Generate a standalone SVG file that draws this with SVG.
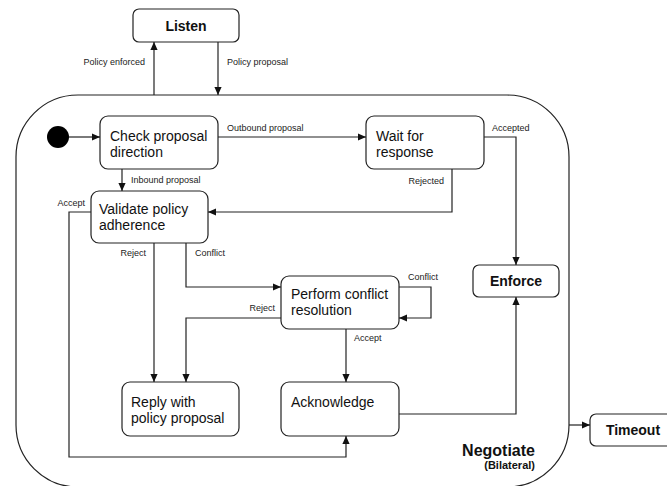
<svg xmlns="http://www.w3.org/2000/svg" width="667" height="486" viewBox="0 0 667 486">
<defs>
<style>
.node{fill:#fff;stroke:#222;stroke-width:1.2}
.t{font-family:"Liberation Sans",Arial,sans-serif;font-size:14px;fill:#111}
.b{font-family:"Liberation Sans",Arial,sans-serif;font-weight:bold;fill:#111}
.lbl{font-family:"Liberation Sans",Arial,sans-serif;font-size:9px;fill:#222}
.c{fill:none;stroke:#222;stroke-width:1.2}
</style>
<marker id="ah" viewBox="0 0 10 10" refX="10" refY="5" markerWidth="8" markerHeight="8" markerUnits="userSpaceOnUse" orient="auto">
<path d="M0,0.5 L10,5 L0,9.5 z" fill="#111"/>
</marker>
</defs>
<rect width="667" height="486" fill="#fff"/>
<g id="negotiate">
<rect x="16" y="95" width="553" height="392" rx="62" ry="62" class="node"/>
<text class="b" x="535" y="456" font-size="16" text-anchor="end">Negotiate</text>
<text class="b" x="535" y="469" font-size="11" text-anchor="end">(Bilateral)</text>
</g>
<g id="listen">
<rect x="133" y="9" width="106" height="33" rx="6" class="node"/>
<text class="b" x="186" y="31" font-size="14" text-anchor="middle">Listen</text>
</g>
<g id="initial">
<circle cx="58" cy="137" r="11" fill="#000"/>
</g>
<g id="check">
<rect x="100" y="116" width="118" height="53" rx="8" class="node"/>
<text class="t" x="110" y="141">Check proposal</text>
<text class="t" x="110" y="157">direction</text>
</g>
<g id="wait">
<rect x="366" y="116" width="118" height="53" rx="8" class="node"/>
<text class="t" x="376" y="141">Wait for</text>
<text class="t" x="376" y="157">response</text>
</g>
<g id="validate">
<rect x="91" y="191" width="117" height="52" rx="8" class="node"/>
<text class="t" x="99" y="214">Validate policy</text>
<text class="t" x="99" y="230">adherence</text>
</g>
<g id="perform">
<rect x="281" y="276" width="118" height="53" rx="8" class="node"/>
<text class="t" x="291" y="299">Perform conflict</text>
<text class="t" x="291" y="315">resolution</text>
</g>
<g id="enforce">
<rect x="473" y="265" width="86" height="32" rx="6" class="node"/>
<text class="b" x="516" y="286" font-size="14" text-anchor="middle">Enforce</text>
</g>
<g id="reply">
<rect x="122" y="382" width="117" height="54" rx="8" class="node"/>
<text class="t" x="131" y="407">Reply with</text>
<text class="t" x="131" y="423">policy proposal</text>
</g>
<g id="acknowledge">
<rect x="281" y="382" width="118" height="54" rx="8" class="node"/>
<text class="t" x="291" y="407">Acknowledge</text>
</g>
<g id="timeout">
<rect x="590" y="414" width="86" height="32" rx="6" class="node"/>
<text class="b" x="633" y="435" font-size="14" text-anchor="middle">Timeout</text>
</g>
<g id="connectors">
<path class="c" d="M154,95 V42" marker-end="url(#ah)"/>
<path class="c" d="M218,42 V95" marker-end="url(#ah)"/>
<path class="c" d="M69,137 H100" marker-end="url(#ah)"/>
<path class="c" d="M218,137 H366" marker-end="url(#ah)"/>
<path class="c" d="M122,169 V191" marker-end="url(#ah)"/>
<path class="c" d="M484,137 H516 V265" marker-end="url(#ah)"/>
<path class="c" d="M452,169 V212 H208" marker-end="url(#ah)"/>
<path class="c" d="M91,212 H69 V457 H346 V436" marker-end="url(#ah)"/>
<path class="c" d="M154,243 V382" marker-end="url(#ah)"/>
<path class="c" d="M186,243 V287 H281" marker-end="url(#ah)"/>
<path class="c" d="M281,318 H186 V382" marker-end="url(#ah)"/>
<path class="c" d="M399,287 H431 V318 H399" marker-end="url(#ah)"/>
<path class="c" d="M346,329 V382" marker-end="url(#ah)"/>
<path class="c" d="M399,414 H516 V297" marker-end="url(#ah)"/>
<path class="c" d="M569,425 H590" marker-end="url(#ah)"/>
<text class="lbl" x="145" y="65" text-anchor="end">Policy enforced</text>
<text class="lbl" x="227" y="65">Policy proposal</text>
<text class="lbl" x="227" y="131">Outbound proposal</text>
<text class="lbl" x="131" y="183">Inbound proposal</text>
<text class="lbl" x="492" y="131">Accepted</text>
<text class="lbl" x="444" y="184" text-anchor="end">Rejected</text>
<text class="lbl" x="85" y="206" text-anchor="end">Accept</text>
<text class="lbl" x="146" y="256" text-anchor="end">Reject</text>
<text class="lbl" x="195" y="256">Conflict</text>
<text class="lbl" x="275" y="311" text-anchor="end">Reject</text>
<text class="lbl" x="408" y="280">Conflict</text>
<text class="lbl" x="354" y="341">Accept</text>
</g>
</svg>
